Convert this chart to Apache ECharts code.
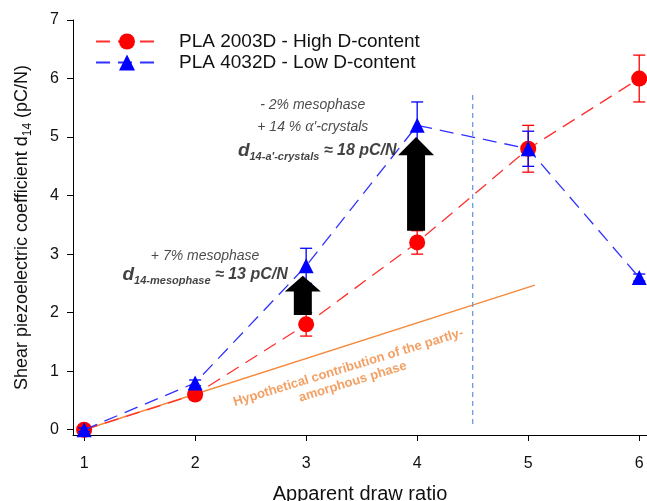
<!DOCTYPE html>
<html><head><meta charset="utf-8">
<script src="https://cdn.jsdelivr.net/npm/echarts@6/dist/echarts.min.js"></script>
<style>html,body{margin:0;padding:0;background:#fff}#c{width:647px;height:501px}</style>
</head><body><div id="c"></div>
<script>
// ---- data ----
const drawRatios = [1, 2, 3, 4, 5, 6];
const pla2003D = [0, 0.6, 1.8, 3.2, 4.8, 6.0];
const pla2003DErr = [0.03, 0.05, 0.2, 0.2, 0.4, 0.4];
const pla4032D = [0, 0.8, 2.8, 5.2, 4.8, 2.6];
const pla4032DErr = [0.03, 0.05, 0.3, 0.4, 0.3, 0.06];
const xTicks = [1, 2, 3, 4, 5, 6];
const yTicks = [0, 1, 2, 3, 4, 5, 6, 7];
const seriesNames = ['PLA 2003D - High D-content', 'PLA 4032D - Low D-content'];
const amorphousLine = [[1, 0], [5.06, 2.47]];
const separatorLine = [[4.5, 0.1], [4.5, 5.75]];
// arrows: x, bottom, head base, tip (data units)
const arrows = [[2.97, 1.96, 2.36, 2.63], [3.99, 3.4, 4.69, 5.0]];
// annotation anchors (data units) and texts
const annAnchors = [[3.06, 5.55], [3.06, 5.17], [3.10, 4.77], [2.09, 2.96], [2.09, 2.645], [3.40, 0.94]];
const annTexts = [
  '- 2% mesophase',
  "{i|+ 14 % }{g|\u03b1}{i|'-crystals}",
  "{d|d}{s|14-a'-crystals}{b| \u2248 18 pC/N}",
  '+ 7% mesophase',
  '{d|d}{s|14-mesophase}{b| \u2248 13 pC/N}',
  'Hypothetical contribution of the partly-\namorphous phase'
];
const xTitle = 'Apparent draw ratio';
const yTitle = '{t|Shear piezoelectric coefficient d}{s|14}{t| (pC/N)}';

// ---- chart ----
const FF = 'Liberation Sans, Arial, sans-serif';
const RED = '#ff0000', BLUE = '#0000ff';
const chart = echarts.init(document.getElementById('c'), null, {renderer: 'canvas'});

function errRender(color) {
  return function (params, api) {
    const x = api.value(0), y = api.value(1), e = api.value(2);
    const t = api.coord([x, y + e]), b = api.coord([x, y - e]);
    const hw = 6, st = {stroke: color, lineWidth: 1.3};
    return {type: 'group', children: [
      {type: 'line', shape: {x1: t[0], y1: t[1], x2: b[0], y2: b[1]}, style: st},
      {type: 'line', shape: {x1: t[0] - hw, y1: t[1], x2: t[0] + hw, y2: t[1]}, style: st},
      {type: 'line', shape: {x1: b[0] - hw, y1: b[1], x2: b[0] + hw, y2: b[1]}, style: st}
    ]};
  };
}
function arrowRender(params, api) {
  const x = api.value(0);
  const pb = api.coord([x, api.value(1)]), ph = api.coord([x, api.value(2)]), pt = api.coord([x, api.value(3)]);
  const sw = 9, hw = 18;
  return {type: 'polygon', shape: {points: [
    [pb[0] - sw, pb[1]], [pb[0] - sw, ph[1]], [pb[0] - hw, ph[1]], [pt[0], pt[1]],
    [pb[0] + hw, ph[1]], [pb[0] + sw, ph[1]], [pb[0] + sw, pb[1]]
  ]}, style: {fill: '#000'}};
}

const annStyle = {color: '#1a1a1a', fontFamily: FF, fontStyle: 'italic', fontSize: 14};
const boldRich = {
  d: {fontFamily: FF, fontSize: 19, fontWeight: 'bold', fontStyle: 'italic', color: '#111', lineHeight: 24},
  s: {fontFamily: FF, fontSize: 11, fontWeight: 'bold', fontStyle: 'italic', color: '#111', padding: [6, 0, 0, 0], verticalAlign: 'bottom'},
  b: {fontFamily: FF, fontSize: 16, fontWeight: 'bold', fontStyle: 'italic', color: '#111', lineHeight: 24}
};
const annLabels = [
  Object.assign({}, annStyle),
  Object.assign({}, annStyle, {rich: {
    i: {fontFamily: FF, fontStyle: 'italic', fontSize: 14, color: '#1a1a1a'},
    g: {fontFamily: 'Liberation Serif, serif', fontStyle: 'italic', fontSize: 16, color: '#1a1a1a'}
  }}),
  {rich: boldRich},
  Object.assign({}, annStyle),
  {rich: boldRich},
  {color: '#f0883e', fontFamily: FF, fontWeight: 'bold', fontSize: 13, lineHeight: 15, rotate: 17, align: 'center'}
];
const annData = annAnchors.map((p, i) => ({
  value: p,
  label: Object.assign({show: true, position: 'inside', align: 'center', verticalAlign: 'middle', formatter: annTexts[i]}, annLabels[i])
}));

chart.setOption({
  animation: false,
  backgroundColor: '#fff',
  grid: {left: 73, right: 0, top: 20, bottom: 66, containLabel: false, outerBoundsMode: 'none'},
  legend: {
    data: seriesNames, orient: 'vertical', left: 95, top: 32, padding: 0,
    itemWidth: 62, itemHeight: 20, itemGap: 2,
    textStyle: {fontFamily: FF, fontSize: 19, color: '#111', padding: [0, 0, 0, 16]}
  },
  xAxis: {
    type: 'value', min: 0.9, max: 6.07,
    axisLine: {onZero: false, lineStyle: {color: '#000', width: 1}},
    axisTick: {show: true, customValues: xTicks, length: 6, lineStyle: {color: '#000'}},
    axisLabel: {customValues: xTicks, fontFamily: FF, fontSize: 16, color: '#111', margin: 21},
    splitLine: {show: false},
    name: xTitle, nameLocation: 'middle', nameGap: 49,
    nameTextStyle: {fontFamily: FF, fontSize: 20, color: '#111'}
  },
  yAxis: {
    type: 'value', min: -0.09, max: 7,
    axisLine: {show: true, onZero: false, lineStyle: {color: '#000', width: 1}},
    axisTick: {show: true, customValues: yTicks, length: 6, lineStyle: {color: '#000'}},
    axisLabel: {customValues: yTicks, fontFamily: FF, fontSize: 16, color: '#111', margin: 14},
    splitLine: {show: false},
    name: yTitle, nameLocation: 'middle', nameRotate: 90, nameGap: 39,
    nameTextStyle: {rich: {
      t: {fontFamily: FF, fontSize: 18, color: '#111', lineHeight: 23},
      s: {fontFamily: FF, fontSize: 12, color: '#111', padding: [6, 0, 0, 0], verticalAlign: 'bottom'}
    }}
  },
  series: [
    {type: 'line', data: amorphousLine, showSymbol: false, symbol: 'none', silent: true, z: 1,
     lineStyle: {color: '#f58a3c', width: 1.5}},
    {type: 'line', data: separatorLine, symbol: 'none', silent: true, z: 1,
     lineStyle: {color: '#6a9be0', width: 1.3, type: [5, 4]}},
    {type: 'custom', renderItem: errRender(RED), encode: {x: 0, y: 1}, z: 2, silent: true,
     data: drawRatios.map((x, i) => [x, pla2003D[i], pla2003DErr[i]])},
    {type: 'line', name: seriesNames[0], z: 3,
     data: drawRatios.map((x, i) => [x, pla2003D[i]]),
     symbol: 'circle', symbolSize: 16,
     itemStyle: {color: RED},
     lineStyle: {color: '#ff3030', width: 1.3, type: [14, 8]}},
    {type: 'custom', renderItem: errRender(BLUE), encode: {x: 0, y: 1}, z: 4, silent: true,
     data: drawRatios.map((x, i) => [x, pla4032D[i], pla4032DErr[i]])},
    {type: 'line', name: seriesNames[1], z: 5,
     data: drawRatios.map((x, i) => [x, pla4032D[i]]),
     symbol: 'triangle', symbolSize: 15,
     itemStyle: {color: BLUE},
     lineStyle: {color: '#3030ff', width: 1.3, type: [14, 8]}},
    {type: 'custom', renderItem: arrowRender, encode: {x: 0, y: 3}, z: 6, silent: true, data: arrows},
    {type: 'scatter', symbolSize: 0, z: 7, silent: true, data: annData}
  ]
});
</script></body></html>
